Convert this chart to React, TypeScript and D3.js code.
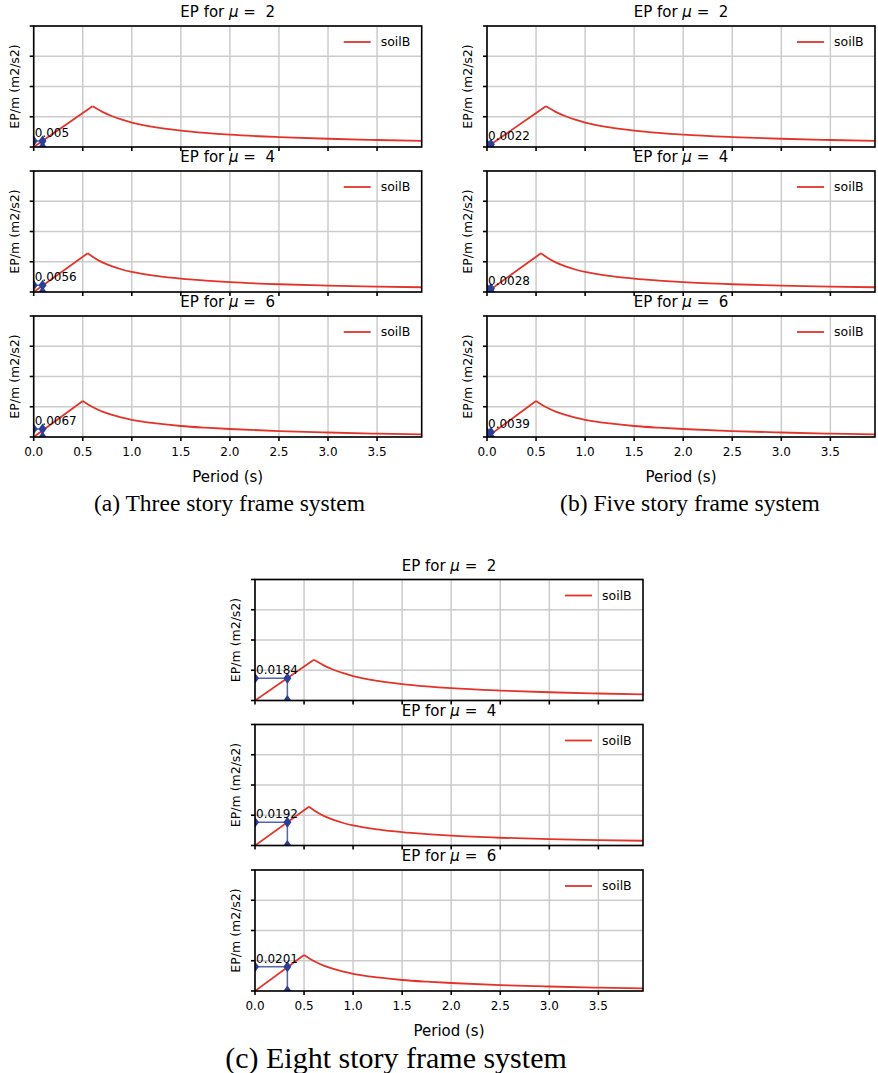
import React from 'react';
import * as d3 from 'd3';

// red curves (soilB); same in every system
const PERIOD_MU2 = [0, 0.6, 0.7, 0.8, 0.9, 1.0, 1.25, 1.5, 1.75, 2.0, 2.5, 3.0, 3.5, 3.955];
const EP_MU2 = [0, 0.0336, 0.029, 0.0254, 0.0226, 0.0202, 0.0162, 0.0136, 0.0117, 0.0102, 0.0082, 0.0068, 0.0058, 0.0051];
const PERIOD_MU4 = [0, 0.55, 0.6, 0.7, 0.8, 0.9, 1.0, 1.25, 1.5, 1.75, 2.0, 2.5, 3.0, 3.5, 3.955];
const EP_MU4 = [0, 0.032, 0.0292, 0.0245, 0.0212, 0.0186, 0.0166, 0.0133, 0.011, 0.0094, 0.0081, 0.0064, 0.0053, 0.0045, 0.0039];
const PERIOD_MU6 = [0, 0.5, 0.6, 0.7, 0.8, 0.9, 1.0, 1.25, 1.5, 1.75, 2.0, 2.5, 3.0, 3.5, 3.955];
const EP_MU6 = [0, 0.0298, 0.0248, 0.021, 0.0182, 0.016, 0.0142, 0.0112, 0.0091, 0.0077, 0.0066, 0.0049, 0.0037, 0.0028, 0.0022];

const MU_LEVELS = [2, 4, 6];
const CURVE_PERIODS = [PERIOD_MU2, PERIOD_MU4, PERIOD_MU6];
const CURVE_EP = [EP_MU2, EP_MU4, EP_MU6];

// blue markers: structure period and its EP value per mu
const CAPTIONS = ['(a) Three story frame system', '(b) Five story frame system', '(c) Eight story frame system'];
const SYSTEM_PERIOD = [0.09, 0.04, 0.33];
const SYSTEM_EP = [
  [0.005, 0.0056, 0.0067],
  [0.0022, 0.0028, 0.0039],
  [0.0184, 0.0192, 0.0201],
];

const X_TICKS = [0, 0.5, 1.0, 1.5, 2.0, 2.5, 3.0, 3.5];
const Y_TICKS = [0, 0.025, 0.05, 0.075, 0.1];
const X_MAX = 3.955;
const Y_MAX = 0.1;

const FONT = "'DejaVu Sans', sans-serif";
const RED = '#e3342a';
const BLUE = '#2b3f98';

type PanelProps = {
  id: string; x0: number; y0: number; w: number; h: number;
  k: number; markT: number; markV: number; showX: boolean;
};

function Panel({ id, x0, y0, w, h, k, markT, markV, showX }: PanelProps) {
  const x = d3.scaleLinear().domain([0, X_MAX]).range([0, w]);
  const y = d3.scaleLinear().domain([0, Y_MAX]).range([h, 0]);
  const T = CURVE_PERIODS[k];
  const E = CURVE_EP[k];
  const pts: [number, number][] = T.map((t, i) => [t, E[i]]);
  const line = d3.line<[number, number]>().x(d => x(d[0])).y(d => y(d[1]));
  const rise = line(pts.slice(0, 2)) || '';
  const decay = line.curve(d3.curveMonotoneX)(pts.slice(1)) || '';
  const diamond = (cx: number, cy: number) =>
    `M${cx},${cy - 5.5}L${cx + 4},${cy}L${cx},${cy + 5.5}L${cx - 4},${cy}Z`;

  return (
    <g transform={`translate(${x0},${y0})`} fontFamily={FONT}>
      <defs>
        <clipPath id={id}><rect x={0} y={0} width={w} height={h} /></clipPath>
      </defs>
      {X_TICKS.map(t => (
        <line key={'gx' + t} x1={x(t)} x2={x(t)} y1={0} y2={h} stroke="#cccccc" strokeWidth={1.5} />
      ))}
      {Y_TICKS.map(t => (
        <line key={'gy' + t} x1={0} x2={w} y1={y(t)} y2={y(t)} stroke="#cccccc" strokeWidth={1.5} />
      ))}
      <g clipPath={`url(#${id})`}>
        <path d={rise} fill="none" stroke={RED} strokeWidth={1.8} />
        <path d={decay} fill="none" stroke={RED} strokeWidth={1.8} />
        <line x1={x(0)} x2={x(markT)} y1={y(markV)} y2={y(markV)} stroke={BLUE} strokeOpacity={0.8} strokeWidth={1.5} />
        <line x1={x(markT)} x2={x(markT)} y1={y(0)} y2={y(markV)} stroke={BLUE} strokeOpacity={0.8} strokeWidth={1.5} />
        <path d={diamond(x(0), y(markV))} fill={BLUE} />
        <path d={diamond(x(markT), y(markV))} fill={BLUE} />
        <path d={diamond(x(markT), y(0))} fill={BLUE} />
      </g>
      <text x={x(0) + 1} y={y(markV) - 4} fontSize={12}>{String(markV)}</text>
      <line x1={310} x2={337} y1={16} y2={16} stroke={RED} strokeWidth={1.8} />
      <text x={347} y={16} dy="0.35em" fontSize={12.5}>soilB</text>
      <rect x={0} y={0} width={w} height={h} fill="none" stroke="#000" strokeWidth={1.6} />
      {X_TICKS.map(t => (
        <line key={'tx' + t} x1={x(t)} x2={x(t)} y1={h} y2={h + 4} stroke="#000" strokeWidth={1.6} />
      ))}
      {Y_TICKS.map(t => (
        <line key={'ty' + t} x1={-4} x2={0} y1={y(t)} y2={y(t)} stroke="#000" strokeWidth={1.6} />
      ))}
      {showX && X_TICKS.map(t => (
        <text key={'lx' + t} x={x(t)} y={h + 15} dy="0.35em" textAnchor="middle" fontSize={12}>{t.toFixed(1)}</text>
      ))}
      <text x={w / 2} y={-9} textAnchor="middle" fontSize={15} xmlSpace="preserve">
        {'EP for '}<tspan fontStyle="italic">μ</tspan>{' =  ' + MU_LEVELS[k]}
      </text>
      <text transform={`translate(-19.5,${h / 2}) rotate(-90)`} textAnchor="middle" dy="0.35em" fontSize={12.5}>
        EP/m (m2/s2)
      </text>
    </g>
  );
}

function Figure({ s, left, tops, capX, capSize }: { s: number; left: number; tops: number[]; capX: number; capSize: number }) {
  const w = 388;
  const h = 121;
  const bottom = tops[2] + h;
  return (
    <g>
      {MU_LEVELS.map((mu, k) => (
        <Panel key={mu} id={`clip-${s}-${k}`} x0={left} y0={tops[k]} w={w} h={h} k={k}
          markT={SYSTEM_PERIOD[s]} markV={SYSTEM_EP[s][k]} showX={k === 2} />
      ))}
      <text x={left + w / 2} y={bottom + 40} dy="0.35em" textAnchor="middle" fontFamily={FONT} fontSize={15}>Period (s)</text>
      <text x={capX} y={bottom + 66} dy="0.35em" textAnchor="middle" fontFamily="'Liberation Serif', serif" fontSize={capSize}>
        {CAPTIONS[s]}
      </text>
    </g>
  );
}

export default function App() {
  const topRows = [26, 171, 316];
  const bottomRows = [579.5, 724.5, 870];
  return (
    <div style={{ position: 'absolute', left: 0, top: 0 }}>
      <svg width={878} height={1073} style={{ display: 'block', background: '#fff' }}>
        <Figure s={0} left={33.7} tops={topRows} capX={229.5} capSize={23.5} />
        <Figure s={1} left={487} tops={topRows} capX={690} capSize={23.5} />
        <Figure s={2} left={255} tops={bottomRows} capX={396} capSize={30} />
      </svg>
    </div>
  );
}
